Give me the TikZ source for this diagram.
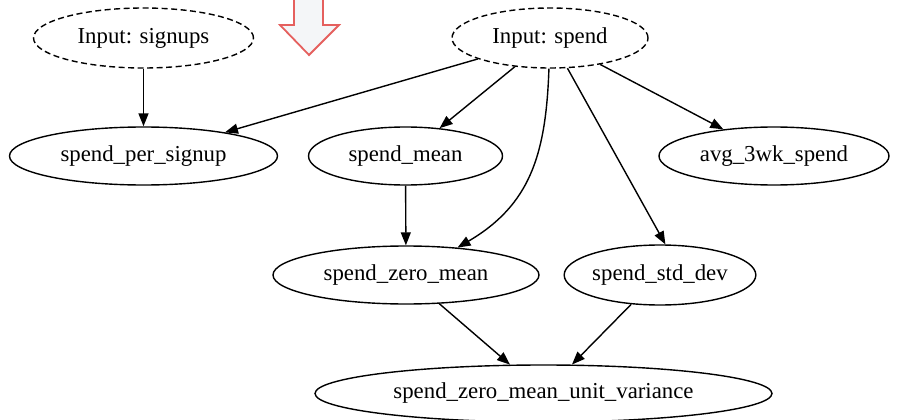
\documentclass[tikz,border=0pt]{standalone}
\usepackage{fontspec}
\setmainfont{Liberation Serif}
\usetikzlibrary{shapes.geometric,arrows.meta}
\definecolor{redline}{HTML}{E5605E}
\definecolor{arrowfill}{HTML}{F4F6F8}
\begin{document}
\begin{tikzpicture}[x=1pt,y=-1pt,
  nd/.style={ellipse, draw, line width=1.4pt, inner sep=0pt,
    font=\fontsize{22.8}{27}\selectfont},
  inp/.style={nd, dash pattern=on 6pt off 3.5pt},
  edge/.style={line width=1.4pt, -{Triangle[length=13pt,width=10pt]}}]
\useasboundingbox (0,0) rectangle (900,420);
\clip (0,0) rectangle (900,420);
% red hint arrow
\draw[redline, fill=arrowfill, line width=1.8pt, line join=miter]
  (294,-5) -- (294,25) -- (280,25) -- (309,55) -- (339,25) -- (323,25) -- (323,-5) -- cycle;
% nodes
\node[inp, minimum width=220pt, minimum height=60pt] (sig) at (143.5,38) {Input: signups};
\node[inp, minimum width=196pt, minimum height=60pt] (spend) at (550,38) {Input: spend};
\node[nd, minimum width=268pt, minimum height=58pt] (sps) at (143.5,156) {spend\_per\_signup};
\node[nd, minimum width=194pt, minimum height=58pt] (sm) at (405.5,156) {spend\_mean};
\node[nd, minimum width=230pt, minimum height=58pt] (avg) at (774,156) {avg\_3wk\_spend};
\node[nd, minimum width=266pt, minimum height=58pt] (szm) at (406,275) {spend\_zero\_mean};
\node[nd, minimum width=184pt, minimum height=60pt] (ssd) at (660,275) {spend\_std\_dev};
\node[nd, minimum width=457pt, minimum height=57pt] (uv) at (543.5,393.5) {spend\_zero\_mean\_unit\_variance};
% edges
\draw[edge] (sig) -- (sps);
\draw[edge] (spend) -- (sps);
\draw[edge] (spend) -- (sm);
\draw[edge] (spend.268) .. controls (546,155) and (530,205) .. (szm.28);
\draw[edge] (spend.-60) -- (ssd.80);
\draw[edge] (spend) -- (avg);
\draw[edge] (sm) -- (szm);
\draw[edge] (szm) -- (uv);
\draw[edge] (ssd) -- (uv);
\end{tikzpicture}
\end{document}
